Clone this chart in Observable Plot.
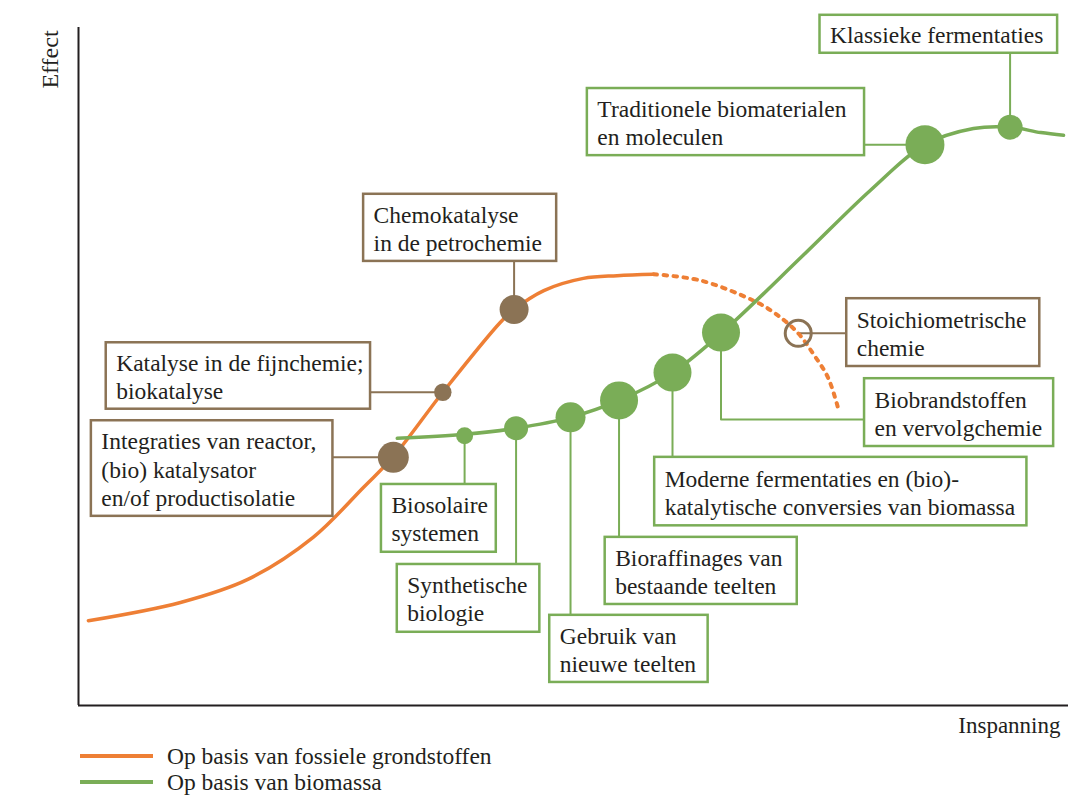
<!DOCTYPE html>
<html><head><meta charset="utf-8">
<script src="https://cdn.jsdelivr.net/npm/d3@7"></script>
<script src="https://cdn.jsdelivr.net/npm/@observablehq/plot@0.6"></script>
<style>
body{margin:0;background:#fff;font-family:"Liberation Serif",serif;color:#231f20}
#chart{position:absolute;left:0;top:0}
#legend{position:absolute;left:0;top:743px}
.row{height:26px;display:flex;align-items:center}
.sw{display:inline-block;width:73px;height:3.5px;margin-left:80px;margin-right:14px}
.t{font-size:23.5px;line-height:26px}
</style></head><body><div id="chart"></div><div id="legend"></div>
<script>
// Schaal: Inspanning (x) 0–100, Effect (y) 0–100
const fossielCurve = [[1.0,12.5],[10.3,15.2],[17.1,18.6],[23.7,24.8],[28.8,32.2],[31.8,36.7],[36.8,46.2],[42.6,56.5],[44.0,58.4],[47.0,61.2],[51.0,63.0],[54.4,63.4],[58.1,63.6]];
const fossielStippel = [[58.1,63.6],[62.8,62.7],[68.2,59.7],[70.4,57.8],[72.7,54.9],[74.2,51.9],[75.7,48.4],[76.7,44.0]];
const biomassaCurve = [[32.2,39.4],[39.0,40.0],[44.2,40.9],[49.7,42.5],[54.6,45.0],[60.0,49.1],[65.0,55.0],[73.2,66.4],[80.0,76.0],[85.5,82.7],[90.4,85.1],[94.1,85.3],[97.2,84.5],[99.5,84.1]];

const mijlpalen = [
  {reeks:"fossiel", x:31.8, y:36.6, gewicht:15.5},
  {reeks:"fossiel", x:36.8, y:46.2, gewicht:8.7},
  {reeks:"fossiel", x:44.0, y:58.4, gewicht:14.5},
  {reeks:"biomassa", x:39.0, y:39.8, gewicht:8.5},
  {reeks:"biomassa", x:44.2, y:40.9, gewicht:12},
  {reeks:"biomassa", x:49.7, y:42.5, gewicht:15},
  {reeks:"biomassa", x:54.6, y:45.0, gewicht:19},
  {reeks:"biomassa", x:60.0, y:49.1, gewicht:19},
  {reeks:"biomassa", x:64.9, y:55.0, gewicht:19},
  {reeks:"biomassa", x:85.5, y:82.7, gewicht:19.5},
  {reeks:"biomassa", x:94.1, y:85.3, gewicht:12.5}
];
const holleMijlpalen = [{reeks:"fossiel", x:72.7, y:54.9, gewicht:13}];

const kaders = [
  {reeks:"biomassa", tekst:"Klassieke fermentaties", x1:74.9, x2:98.9, y1:101.8, y2:96.2},
  {reeks:"biomassa", tekst:"Traditionele biomaterialen\nen moleculen", x1:51.4, x2:79.4, y1:91.0, y2:81.1},
  {reeks:"fossiel", tekst:"Chemokatalyse\nin de petrochemie", x1:28.8, x2:48.3, y1:75.4, y2:65.5},
  {reeks:"fossiel", tekst:"Katalyse in de fijnchemie;\nbiokatalyse", x1:2.8, x2:29.5, y1:53.5, y2:43.7},
  {reeks:"fossiel", tekst:"Integraties van reactor,\n(bio) katalysator\nen/of productisolatie", x1:1.3, x2:25.7, y1:42.0, y2:27.9},
  {reeks:"biomassa", tekst:"Biosolaire\nsystemen", x1:30.6, x2:42.2, y1:32.6, y2:22.6},
  {reeks:"biomassa", tekst:"Synthetische\nbiologie", x1:32.2, x2:46.6, y1:20.8, y2:10.8},
  {reeks:"biomassa", tekst:"Gebruik van\nnieuwe teelten", x1:47.6, x2:63.6, y1:13.3, y2:3.4},
  {reeks:"biomassa", tekst:"Bioraffinages van\nbestaande teelten", x1:53.2, x2:72.6, y1:24.8, y2:14.9},
  {reeks:"biomassa", tekst:"Moderne fermentaties en (bio)-\nkatalytische conversies van biomassa", x1:58.2, x2:95.8, y1:36.6, y2:26.5},
  {reeks:"biomassa", tekst:"Biobrandstoffen\nen vervolgchemie", x1:79.4, x2:98.5, y1:48.2, y2:38.2},
  {reeks:"fossiel", tekst:"Stoichiometrische\nchemie", x1:77.6, x2:97.1, y1:60.0, y2:50.0}
];

const verbindingen = [
  {id:1, reeks:"biomassa", punten:[[94.1,96.2],[94.1,85.3]]},
  {id:2, reeks:"biomassa", punten:[[79.4,82.7],[85.5,82.7]]},
  {id:3, reeks:"fossiel", punten:[[44.0,65.5],[44.0,58.4]]},
  {id:4, reeks:"fossiel", punten:[[29.5,46.2],[36.8,46.2]]},
  {id:5, reeks:"fossiel", punten:[[25.7,36.6],[31.8,36.6]]},
  {id:6, reeks:"biomassa", punten:[[39.0,39.8],[39.0,32.6]]},
  {id:7, reeks:"biomassa", punten:[[44.2,40.9],[44.2,20.8]]},
  {id:8, reeks:"biomassa", punten:[[49.7,42.5],[49.7,13.3]]},
  {id:9, reeks:"biomassa", punten:[[54.6,45.0],[54.6,24.8]]},
  {id:10, reeks:"biomassa", punten:[[60.0,49.1],[60.0,36.6]]},
  {id:11, reeks:"biomassa", punten:[[64.9,55.0],[64.9,42.2],[79.4,42.2]]},
  {id:12, reeks:"fossiel", punten:[[72.7,54.9],[77.6,54.9]]}
];

const asLabels = {x:"Inspanning", y:"Effect"};
const legendaLabels = [
  {reeks:"fossiel", tekst:"Op basis van fossiele grondstoffen"},
  {reeks:"biomassa", tekst:"Op basis van biomassa"}
];

const lijnKleur = {fossiel:"#ee7f35", biomassa:"#7aad57"};
const kaderKleur = {fossiel:"#8b7355", biomassa:"#7aad57"};
const stipKleur = {fossiel:"#8b7355", biomassa:"#7aad57"};
const tekstKleur = "#231f20";

const pts = a => a.map(([x,y]) => ({x,y}));
const verbPts = verbindingen.flatMap(v => v.punten.map(([x,y]) => ({id:v.id, reeks:v.reeks, x, y})));

const chart = Plot.plot({
  width:1068, height:743,
  marginLeft:78, marginRight:0, marginTop:27, marginBottom:38,
  x:{domain:[0,100], axis:null},
  y:{domain:[0,100], axis:null},
  r:{type:"identity"},
  style:{fontFamily:"Liberation Serif, serif", background:"#fff"},
  marks:[
    Plot.ruleX([0], {stroke:"#231f20", strokeWidth:2}),
    Plot.ruleY([0], {stroke:"#231f20", strokeWidth:2}),
    Plot.line(verbPts, {x:"x", y:"y", z:"id", stroke:d => kaderKleur[d.reeks], strokeWidth:2}),
    Plot.line(pts(fossielCurve), {x:"x", y:"y", stroke:lijnKleur.fossiel, strokeWidth:3.5, curve:"catmull-rom"}),
    Plot.line(pts(fossielStippel), {x:"x", y:"y", stroke:lijnKleur.fossiel, strokeWidth:4, strokeDasharray:"3.5,6.5", curve:"catmull-rom"}),
    Plot.line(pts(biomassaCurve), {x:"x", y:"y", stroke:lijnKleur.biomassa, strokeWidth:3.5, curve:"catmull-rom"}),
    Plot.dot(mijlpalen, {x:"x", y:"y", r:"gewicht", fill:d => stipKleur[d.reeks], stroke:"none"}),
    Plot.dot(holleMijlpalen, {x:"x", y:"y", r:"gewicht", fill:"none", stroke:d => stipKleur[d.reeks], strokeWidth:3}),
    Plot.rect(kaders, {x1:"x1", x2:"x2", y1:"y1", y2:"y2", fill:"#fff", stroke:d => kaderKleur[d.reeks], strokeWidth:2.5}),
    Plot.text(kaders, {x:"x1", y:d => (d.y1 + d.y2) / 2, text:"tekst", textAnchor:"start", lineAnchor:"middle", dx:10, fontSize:23.5, lineHeight:1.2, fill:tekstKleur}),
    Plot.text([asLabels.y], {text:d => d, frameAnchor:"top-left", dx:-38, dy:32, rotate:-90, textAnchor:"middle", fontSize:24, fill:tekstKleur}),
    Plot.text([asLabels.x], {text:d => d, frameAnchor:"bottom-right", dx:-8, dy:27, textAnchor:"end", fontSize:23, fill:tekstKleur})
  ]
});
document.getElementById("chart").append(chart);

const leg = document.getElementById("legend");
for (const l of legendaLabels) {
  const row = document.createElement("div"); row.className = "row";
  const sw = document.createElement("span"); sw.className = "sw"; sw.style.background = lijnKleur[l.reeks];
  const t = document.createElement("span"); t.className = "t"; t.textContent = l.tekst;
  row.append(sw, t); leg.append(row);
}
</script></body></html>
